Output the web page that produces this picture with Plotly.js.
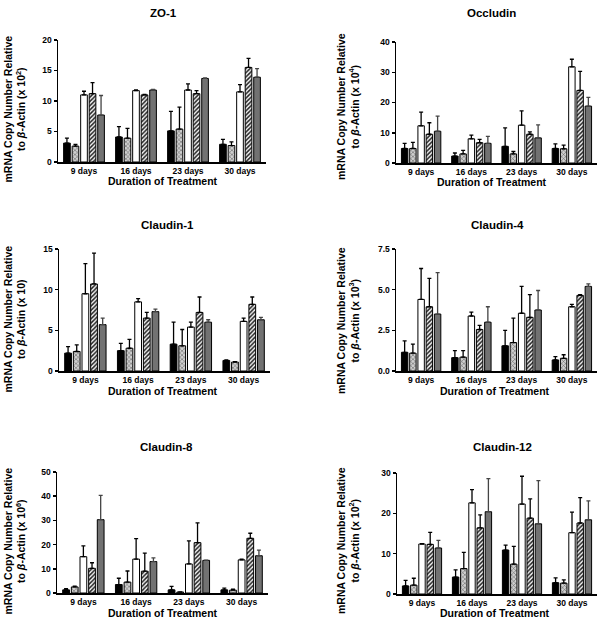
<!DOCTYPE html>
<html><head><meta charset="utf-8">
<script src="https://cdn.plot.ly/plotly-3.0.1.min.js"></script>
<style>html,body{margin:0;padding:0;background:#fff}#c{width:600px;height:622px}</style>
</head><body><div id="c"></div>
<script>
const categories = ['9 days', '16 days', '23 days', '30 days'];
const seriesNames = ['Group 1', 'Group 2', 'Group 3', 'Group 4', 'Group 5'];

// rows = series (5), columns = days (4)
const zo1Mean = [[3.1,4.1,5.1,2.9],[2.6,3.9,5.4,2.7],[11.0,11.7,11.8,11.5],[11.2,11.0,11.2,15.5],[7.7,11.8,13.7,13.9]];
const zo1Err  = [[0.8,1.7,3.2,0.8],[0.3,1.6,3.6,0.6],[0.6,0.1,1.0,1.2],[1.8,0.1,0.5,1.5],[3.2,0.1,0.1,1.4]];

const occMean = [[4.8,2.3,5.5,4.8],[4.8,3.0,3.0,4.7],[12.3,8.0,12.5,31.8],[9.5,6.7,9.5,24.0],[10.5,6.5,8.3,18.8]];
const occErr  = [[1.7,1.0,6.1,1.5],[2.0,1.2,0.8,1.2],[4.5,1.2,4.7,2.5],[3.8,1.1,0.8,6.3],[5.0,2.3,4.3,2.9]];

const cl1Mean = [[2.2,2.5,3.3,1.3],[2.4,2.8,3.1,1.1],[9.5,8.5,5.4,6.1],[10.7,6.5,7.2,8.2],[5.7,7.3,6.0,6.3]];
const cl1Err  = [[0.8,0.9,2.7,0.05],[0.8,1.1,2.0,0.05],[3.7,0.4,0.6,0.4],[3.8,0.7,1.9,0.9],[0.8,0.3,0.3,0.3]];

const cl4Mean = [[1.15,0.82,1.55,0.68],[1.1,0.85,1.75,0.78],[4.4,3.38,3.55,3.95],[3.95,2.55,3.3,4.65],[3.5,3.0,3.75,5.2]];
const cl4Err  = [[0.7,0.43,0.95,0.2],[0.55,0.4,1.5,0.22],[1.9,0.24,1.65,0.15],[1.75,0.25,1.4,0.05],[2.55,0.95,1.2,0.15]];

const cl8Mean = [[1.3,3.5,1.3,1.3],[2.5,4.5,0.4,1.2],[15.0,14.0,12.0,13.7],[10.2,9.0,20.8,22.6],[30.3,13.0,13.5,15.4]];
const cl8Err  = [[0.5,2.6,1.4,0.7],[0.3,4.6,0.1,0.4],[4.5,8.5,9.5,0.3],[2.3,7.5,8.2,2.1],[10.0,1.5,0.1,2.3]];

const cl12Mean = [[2.0,4.2,10.9,2.8],[2.2,6.3,7.4,2.7],[12.4,22.6,22.3,15.2],[12.3,16.4,18.8,17.6],[11.4,20.4,17.4,18.4]];
const cl12Err  = [[1.4,1.8,1.2,1.2],[1.7,4.0,4.4,0.8],[0.1,3.3,6.9,5.1],[3.0,3.2,4.8,6.3],[1.9,8.2,10.7,4.7]];

const panelTitles = ['ZO-1', 'Occludin', 'Claudin-1', 'Claudin-4', 'Claudin-8', 'Claudin-12'];
const yExponents = ['<sup>2</sup>', '<sup>4</sup>', '', '<sup>3</sup>', '<sup>6</sup>', '<sup>2</sup>'];
const yRanges = [[0,20],[0,40],[0,15],[0,7.5],[0,50],[0,30]];
const yDticks = [5, 10, 5, 2.5, 10, 10];
const means = [zo1Mean, occMean, cl1Mean, cl4Mean, cl8Mean, cl12Mean];
const errs = [zo1Err, occErr, cl1Err, cl4Err, cl8Err, cl12Err];

// panel pixel boxes [x0,x1,y0(top),y1(bottom)]
const boxes = [[58,266,40,162],[396,597,42,163],[59,270,249,371],[396,597,249,371],[57,268,472,593],[397,597,473,594]];
const titlePos = [[163,13],[492,13],[167,225],[497,225],[166,447],[502,447]];
const xTitlePos = [[163,181],[492,182],[163,391],[495,391],[163,613],[495,613]];
const yTitlePos = [[14.5,109],[348,107],[14.5,319],[348,321],[14.5,541],[348,541]];

const W = 600, H = 622;
const px = v => v / W, py = v => 1 - v / H;
const FONT = 'Liberation Sans, Arial, sans-serif';

const styles = [
  {color:'#000000'},
  {color:'#ffffff', pattern:{shape:'x', fgcolor:'#555', bgcolor:'#cfcfcf', size:3, solidity:0.3}},
  {color:'#ffffff'},
  {color:'#ffffff', pattern:{shape:'/', fgcolor:'#222', bgcolor:'#f4f4f4', size:3, solidity:0.5}},
  {color:'#727272'}
];
const errColors = ['#000','#000','#000','#000','#444'];

const traces = [];
const layout = {
  width: W, height: H, margin:{l:0,r:0,t:0,b:0},
  paper_bgcolor:'#fff', plot_bgcolor:'rgba(0,0,0,0)',
  showlegend:false, barmode:'group', bargap:0.18, bargroupgap:0.22,
  font:{family:FONT, color:'#000', weight:'bold'},
  annotations:[]
};

for (let p = 0; p < 6; p++) {
  const ax = p === 0 ? '' : String(p + 1);
  for (let s = 0; s < 5; s++) {
    const st = styles[s];
    const marker = {color: st.color, line:{color:'#000', width:1}};
    if (st.pattern) marker.pattern = st.pattern;
    traces.push({
      type:'bar', x: categories, y: means[p][s], name: seriesNames[s],
      xaxis:'x' + ax, yaxis:'y' + ax, marker: marker,
      error_y:{type:'data', symmetric:false, array: errs[p][s], arrayminus: means[p][s].map(() => 0),
               color: errColors[s], thickness:1.3, width:2}
    });
  }
  const b = boxes[p];
  layout['xaxis' + ax] = {
    domain:[px(b[0]), px(b[1])], anchor:'y' + ax, type:'category', range:[-0.5, 3.5],
    showline:true, linecolor:'#000', linewidth:1.5, ticks:'', showgrid:false, zeroline:false,
    tickfont:{family:FONT, size:8.5, color:'#000', weight:'bold'}, fixedrange:true
  };
  layout['yaxis' + ax] = {
    domain:[py(b[3]), py(b[2])], anchor:'x' + ax, range: yRanges[p], dtick: yDticks[p], tick0:0,
    tickformat: p === 3 ? '.1f' : '', showline:true, linecolor:'#000', linewidth:1.5,
    ticks:'outside', ticklen:3, tickwidth:1.5, tickcolor:'#000', showgrid:false, zeroline:false,
    tickfont:{family:FONT, size:8.5, color:'#000', weight:'bold'}, fixedrange:true
  };
  layout.annotations.push({
    text: panelTitles[p], xref:'paper', yref:'paper', x: px(titlePos[p][0]), y: py(titlePos[p][1]),
    xanchor:'center', yanchor:'middle', showarrow:false,
    font:{family:FONT, size:11.5, color:'#000', weight:'bold'}
  });
  layout.annotations.push({
    text: 'Duration of Treatment', xref:'paper', yref:'paper', x: px(xTitlePos[p][0]), y: py(xTitlePos[p][1]),
    xanchor:'center', yanchor:'middle', showarrow:false,
    font:{family:FONT, size:10.5, color:'#000', weight:'bold'}
  });
  layout.annotations.push({
    text: 'mRNA Copy Number Relative<br>to <i>β</i>-Actin (x 10' + yExponents[p] + ')',
    xref:'paper', yref:'paper', x: px(yTitlePos[p][0]), y: py(yTitlePos[p][1]),
    xanchor:'center', yanchor:'middle', showarrow:false, textangle:-90,
    font:{family:FONT, size:10.5, color:'#000', weight:'bold'}
  });
}

Plotly.newPlot('c', traces, layout, {staticPlot:true});
</script>
</body></html>
